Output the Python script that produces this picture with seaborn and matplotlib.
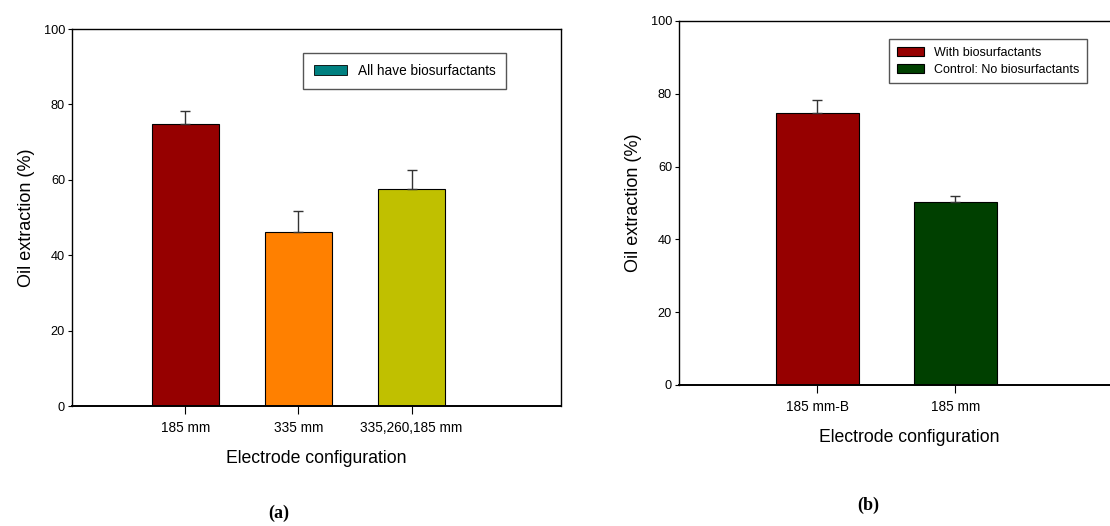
import numpy as np
import pandas as pd
import matplotlib
matplotlib.use("Agg")
import matplotlib.pyplot as plt
import matplotlib.patches as mpatches
import seaborn as sns

# Data
configs_a = ["185 mm", "335 mm", "335,260,185 mm"]
values_a = [74.7, 46.2, 57.5]
errors_a = [3.6, 5.4, 5.2]
colors_a = ["#960000", "#ff8000", "#c0c000"]

configs_b = ["185 mm-B", "185 mm"]
values_b = [74.7, 50.3]
errors_b = [3.6, 1.6]
groups_b = ["With biosurfactants", "Control: No biosurfactants"]
colors_b = ["#960000", "#004000"]

yticks = [0, 20, 40, 60, 80, 100]

sns.set_theme(style="white")
plt.rcParams["font.family"] = ["Liberation Sans", "DejaVu Sans"]
plt.rcParams["text.color"] = "black"
plt.rcParams["axes.labelcolor"] = "black"
plt.rcParams["xtick.color"] = "black"
plt.rcParams["ytick.color"] = "black"

fig = plt.figure(figsize=(11.1, 5.26), dpi=100)
ax_a = fig.add_axes([0.0649, 0.2281, 0.4405, 0.7167])
ax_b = fig.add_axes([0.6117, 0.2681, 0.4144, 0.692])


def style_axis(ax, xmax):
    ax.set_ylim(0, 100)
    ax.set_xlim(-1, xmax)
    ax.set_yticks(yticks)
    for s in ax.spines.values():
        s.set_color("black")
        s.set_linewidth(1.0)
    ax.spines["bottom"].set_linewidth(1.4)
    ax.tick_params(axis="y", direction="out", length=3, width=0.8, pad=2,
                   labelsize=9.2, left=True)
    ax.tick_params(axis="x", direction="out", length=5.5, width=0.8, pad=5,
                   labelsize=9.8, bottom=True)
    ax.set_ylabel("Oil extraction (%)", fontsize=13, labelpad=6)
    ax.set_xlabel("Electrode configuration", fontsize=12.7, labelpad=11)


# ---- panel (a) ----
df_a = pd.DataFrame({"config": configs_a, "value": values_a})
sns.barplot(data=df_a, x="config", y="value", hue="config",
            palette=colors_a, saturation=1, width=0.59, edgecolor="black",
            linewidth=0.8, legend=False, ax=ax_a)
ax_a.errorbar(np.arange(len(configs_a)), values_a,
              yerr=[np.zeros(len(errors_a)), errors_a], fmt="none",
              ecolor="#333333", elinewidth=1, capsize=3.5, capthick=1)
style_axis(ax_a, 3.32)
ax_a.legend(handles=[mpatches.Patch(facecolor="#008080", edgecolor="black",
                                    linewidth=0.6, label="All have biosurfactants")],
            loc="upper right", bbox_to_anchor=(0.902, 0.955), fontsize=9.8,
            fancybox=False, edgecolor="#555555", framealpha=1,
            handlelength=2.4, handleheight=0.7, borderpad=0.8)

# ---- panel (b) ----
df_b = pd.DataFrame({"config": configs_b, "value": values_b, "group": groups_b})
sns.barplot(data=df_b, x="config", y="value", hue="group",
            palette=colors_b, saturation=1, width=0.6, dodge=False,
            edgecolor="black", linewidth=0.8, ax=ax_b)
ax_b.errorbar(np.arange(len(configs_b)), values_b,
              yerr=[np.zeros(len(errors_b)), errors_b], fmt="none",
              ecolor="#333333", elinewidth=1, capsize=3.5, capthick=1)
style_axis(ax_b, 2.33)
ax_b.legend(loc="upper left", bbox_to_anchor=(0.443, 0.967), fontsize=9,
            fancybox=False, edgecolor="#555555", framealpha=1,
            handlelength=2.2, handleheight=0.8, borderpad=0.6, labelspacing=0.4)

fig.text(0.251, 0.025, "(a)", ha="center", va="center", fontsize=13,
         fontweight="bold", family=["Liberation Serif", "DejaVu Serif"])
fig.text(0.782, 0.04, "(b)", ha="center", va="center", fontsize=13,
         fontweight="bold", family=["Liberation Serif", "DejaVu Serif"])

fig.savefig("out.png", dpi=100)
